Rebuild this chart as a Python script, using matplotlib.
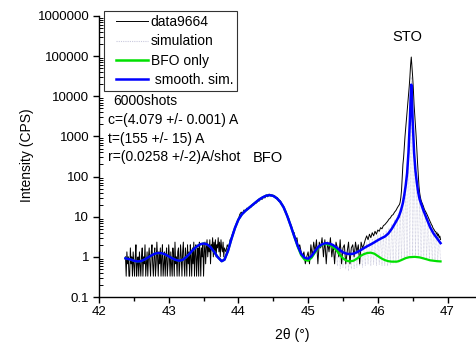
import numpy as np
import matplotlib
matplotlib.use("Agg")
import matplotlib.pyplot as plt
from matplotlib.lines import Line2D
from matplotlib.legend_handler import HandlerLine2D
from matplotlib.ticker import FixedLocator, FixedFormatter, LogLocator, NullFormatter

plt.rcParams["font.family"] = ["Liberation Sans", "DejaVu Sans"]

# --- measured scan (data9664), read off the picture in three segments ---
# 42.38 - 43.80, 0.01 deg steps : background
bg_start, bg_step = 42.38, 0.01
bg_y = [
    1.0, 0.33, 1.33, 0.67, 1.0, 0.33, 0.33, 1.67, 0.67, 1.0,
    0.33, 1.33, 0.67, 0.33, 1.0, 2.0, 0.33, 0.67, 1.0, 0.33,
    1.33, 0.67, 0.33, 1.0, 1.67, 0.33, 1.0, 0.67, 2.0, 0.33,
    0.67, 1.33, 0.33, 1.0, 1.67, 0.67, 0.33, 1.33, 2.0, 0.67,
    0.33, 1.0, 1.67, 0.33, 0.67, 2.33, 1.0, 0.33, 1.33, 0.67,
    1.67, 0.33, 1.0, 2.0, 0.33, 0.67, 1.33, 0.33, 1.0, 1.67,
    0.33, 0.67, 2.0, 1.0, 0.33, 1.33, 0.67, 0.33, 1.67, 1.0,
    0.33, 2.33, 0.67, 1.0, 0.33, 1.33, 1.67, 0.33, 0.67, 2.0,
    1.0, 0.33, 1.33, 2.33, 0.67, 0.33, 1.67, 1.0, 0.33, 2.0,
    0.67, 1.33, 0.33, 2.0, 1.0, 0.33, 1.67, 0.67, 2.33, 0.33,
    1.33, 2.0, 0.33, 1.0, 1.67, 0.33, 2.33, 1.33, 0.33, 1.67,
    1.0, 2.0, 0.33, 1.33, 2.33, 0.67, 1.67, 2.67, 1.0, 2.0,
    1.33, 2.67, 0.67, 2.0, 1.67, 3.0, 1.0, 2.33, 1.33, 2.67,
    1.0, 2.0, 1.67, 3.0, 1.33, 2.33, 1.0, 2.67, 1.67, 1.33,
    2.33, 1.0, 1.67,
]
# 43.82 - 46.30, 0.02 deg steps : BFO peak and STO tail
mid_start, mid_step = 43.82, 0.02
mid_y = [
    1.33, 2.0, 1.67, 2.67, 3.0, 4.0, 4.67, 6.0, 7.33, 8.67,
    11.5, 13.0, 12.3, 14.7, 14.0, 16.3, 15.7, 18.0, 17.3, 20.3,
    19.7, 22.7, 22.0, 25.3, 24.7, 28.3, 27.0, 31.0, 29.3, 34.7,
    31.3, 36.7, 33.0, 35.3, 31.7, 33.3, 28.3, 29.7, 24.0, 25.0,
    20.0, 19.3, 15.0, 13.7, 10.3, 9.3, 6.7, 6.0, 4.3, 4.0,
    2.7, 3.0, 1.67, 2.0, 1.33,
    1.0, 1.33, 0.67, 1.0, 1.33, 0.67, 2.0, 1.0, 2.33, 1.33,
    2.67, 0.67, 2.33, 1.67, 3.0, 1.0, 2.67, 0.67, 2.33, 1.33,
    3.0, 1.0, 2.0, 0.67, 2.33, 1.67, 1.0, 2.67, 0.67, 1.67,
    2.0, 0.67, 1.33, 2.33, 0.67, 1.67, 2.0, 1.0, 2.33, 1.33,
    2.0, 0.67, 2.33, 1.67, 2.0,
    2.67, 3.33, 2.67, 3.67, 3.0, 4.0, 3.33, 4.33, 3.67, 4.67,
    4.33, 5.33, 5.0, 6.0, 6.33, 7.0, 7.67, 8.67, 9.33, 10.7,
    11.3, 13.0, 14.3, 16.7, 19.0,
]
# 46.31 - 46.90, 0.01 deg steps : STO peak
peak_start, peak_step = 46.31, 0.01
peak_y = [
    20, 23, 30, 45, 90, 200, 300, 550, 1000, 1600,
    2500, 4000, 6300, 10000, 17000, 30000, 60000, 95000, 55000, 30000,
    15000, 6300, 3500, 1800, 1000, 450, 220, 110, 60, 40,
    31, 26, 23, 21, 19, 17, 15, 14, 13, 12,
    11, 10, 9, 8.3, 7.6, 7, 6.3, 6, 5.3, 5,
    4.7, 4.3, 4.3, 3.7, 4, 3.3, 3.7, 3, 3.3, 2.7,
]

# --- simulation (fast fringes), 0.02 deg steps from 45.40 ---
sim_start, sim_step = 45.40, 0.02
sim_y = [
    2.2, 0.6, 1.9, 0.5, 1.7, 0.55, 1.6, 0.5, 1.5, 0.45,
    1.5, 0.5, 1.55, 0.5, 1.7, 0.55, 1.8, 0.6, 1.9, 0.55,
    2.1, 0.6, 2.3, 0.65, 2.6, 0.6, 2.8, 0.65, 3.0, 0.6,
    3.4, 0.65, 3.7, 0.6, 4.0, 0.6, 4.5, 0.6, 5.2, 0.65,
    6.5, 0.7, 8.5, 0.7, 11, 0.75, 16, 0.8, 30, 0.9,
    80, 1.0, 600, 1.0, 30000, 1.0, 500, 1.0, 90, 1.0,
    35, 0.95, 22, 0.9, 14, 0.9, 9, 0.85, 6.5, 0.8,
    5, 0.8, 4, 0.8, 3.3, 0.8,
]

# --- smooth simulation ---
smooth_x = [
    42.38, 42.45, 42.50, 42.55, 42.60, 42.65, 42.70, 42.75, 42.80, 42.85,
    42.90, 42.95, 43.00, 43.05, 43.10, 43.15, 43.20, 43.25, 43.30, 43.35,
    43.40, 43.45, 43.50, 43.55, 43.60, 43.65, 43.70, 43.76, 43.80, 43.85,
    43.90, 43.95, 44.00, 44.05, 44.10, 44.15, 44.20, 44.25, 44.30, 44.35,
    44.40, 44.45, 44.50, 44.55, 44.60, 44.65, 44.70, 44.75, 44.80, 44.85,
    44.90, 44.95, 45.00, 45.05, 45.10, 45.15, 45.20, 45.25, 45.30, 45.35,
    45.40, 45.45, 45.50, 45.55, 45.60, 45.65, 45.70, 45.75, 45.80, 45.85,
    45.90, 45.95, 46.00, 46.05, 46.10, 46.15, 46.20, 46.25, 46.30, 46.33,
    46.36, 46.38, 46.40, 46.42, 46.44, 46.46, 46.47, 46.48, 46.49, 46.50,
    46.52, 46.54, 46.56, 46.58, 46.60, 46.65, 46.70, 46.75, 46.80, 46.85,
    46.90,
]
smooth_y = [
    0.92, 0.86, 0.8, 0.77, 0.78, 0.85, 0.96, 1.08, 1.2, 1.25,
    1.23, 1.15, 1.03, 0.92, 0.84, 0.8, 0.84, 0.98, 1.2, 1.5,
    1.8, 2.05, 2.15, 2.05, 1.75, 1.35, 1.0, 0.78, 0.85, 1.4,
    2.8, 5.2, 8.5, 11.5, 14.0, 16.5, 19.5, 23, 27, 30.5,
    33.5, 34.5, 33, 29, 23.5, 17, 10.5, 6.0, 3.3, 1.9,
    1.2, 0.95, 0.9, 1.05, 1.4, 1.8, 2.05, 2.2, 2.15, 2.0,
    1.75, 1.5, 1.3, 1.2, 1.17, 1.2, 1.3, 1.45, 1.65, 1.85,
    2.05, 2.3, 2.6, 2.9, 3.2, 3.8, 5.0, 7.0, 10, 14,
    22, 35, 60, 120, 400, 2500, 8000, 19500, 8000, 2500,
    400, 140, 70, 40, 27, 15, 9, 5.5, 3.8, 2.9,
    2.2,
]

# --- BFO only: follows the smooth curve up to 44.80, then its own fringes ---
bfo_tail_x = [
    44.85, 44.90, 44.95, 45.00, 45.05, 45.10, 45.15, 45.20, 45.25, 45.30,
    45.35, 45.40, 45.45, 45.50, 45.55, 45.60, 45.65, 45.70, 45.75, 45.80,
    45.85, 45.90, 45.95, 46.00, 46.05, 46.10, 46.15, 46.20, 46.27, 46.30,
    46.35, 46.40, 46.45, 46.53, 46.60, 46.65, 46.70, 46.75, 46.80, 46.85,
    46.90,
]
bfo_tail_y = [
    1.8, 1.1, 0.85, 0.8, 0.95, 1.3, 1.7, 2.0, 2.1, 2.0,
    1.8, 1.5, 1.15, 0.92, 0.8, 0.77, 0.8, 0.9, 1.05, 1.17,
    1.25, 1.27, 1.2, 1.05, 0.92, 0.83, 0.78, 0.76, 0.76, 0.78,
    0.85, 0.93, 0.98, 1.0, 0.97, 0.92, 0.87, 0.82, 0.8, 0.78,
    0.77,
]
n_shared = smooth_x.index(44.80) + 1
bfo_x = smooth_x[:n_shared] + bfo_tail_x
bfo_y = smooth_y[:n_shared] + bfo_tail_y

data_x = np.concatenate([
    bg_start + bg_step * np.arange(len(bg_y)),
    mid_start + mid_step * np.arange(len(mid_y)),
    peak_start + peak_step * np.arange(len(peak_y)),
])
data_y = np.concatenate([bg_y, mid_y, peak_y])
sim_x = sim_start + sim_step * np.arange(len(sim_y))

y_ticks = [0.1, 1, 10, 100, 1000, 10000, 100000, 1000000]
y_tick_labels = ["0.1", "1", "10", "100", "1000", "10000", "100000", "1000000"]
x_ticks = [42, 43, 44, 45, 46, 47]


class ShiftedLine(HandlerLine2D):
    # legend line drawn a little away from the frame, as in the original
    def __init__(self, shift, **kw):
        super().__init__(**kw)
        self.shift = shift

    def create_artists(self, legend, orig_handle, xdescent, ydescent,
                       width, height, fontsize, trans):
        return super().create_artists(legend, orig_handle, xdescent - self.shift,
                                      ydescent, width - self.shift, height,
                                      fontsize, trans)


fig = plt.figure(figsize=(4.76, 3.47), dpi=100)
ax = fig.add_axes([99 / 476, 1 - 297 / 347, 376.4 / 476, 281 / 347])

ax.plot(sim_x, sim_y, color="#c9c9dd", lw=0.5, ls=(0, (1, 1)), zorder=1)
ax.plot(data_x, data_y, color="black", lw=0.7, zorder=2)
ax.plot(bfo_x, bfo_y, color="#00e000", lw=1.6, zorder=3)
ax.plot(smooth_x, smooth_y, color="#0000ff", lw=1.8, zorder=4)

ax.set_yscale("log")
ax.set_xlim(42, 47.4)
ax.set_ylim(0.1, 1000000)
ax.yaxis.set_major_locator(FixedLocator(y_ticks))
ax.yaxis.set_major_formatter(FixedFormatter(y_tick_labels))
ax.yaxis.set_minor_locator(LogLocator(base=10, subs=np.arange(2, 10)))
ax.yaxis.set_minor_formatter(NullFormatter())
ax.set_xticks(x_ticks)
ax.set_xticklabels([str(t) for t in x_ticks])
ax.xaxis.set_minor_locator(FixedLocator([42.5, 43.5, 44.5, 45.5, 46.5]))

for side in ("top", "right"):
    ax.spines[side].set_visible(False)
for side in ("left", "bottom"):
    ax.spines[side].set_linewidth(1.0)

ax.tick_params(axis="both", which="major", labelsize=9.5, length=4, width=1.0, direction="out")
ax.tick_params(axis="y", which="major", pad=3)
ax.tick_params(axis="x", which="major", pad=2.5)
ax.tick_params(axis="y", which="minor", length=3, width=0.7, direction="in")
ax.tick_params(axis="x", which="minor", length=3, width=1.0, direction="out")

ax.text(44.42, 290, "BFO", fontsize=10.5, ha="center", va="center")
ax.text(46.42, 300000, "STO", fontsize=10.5, ha="center", va="center")

fig.text(27 / 476, 1 - 155 / 347, "Intensity (CPS)", rotation=90, fontsize=10,
         ha="center", va="center")
fig.text(292 / 476, 1 - 335 / 347, "2θ (°)", fontsize=10, ha="center", va="center")

notes = [
    (113, 101, "6000shots"),
    (108, 120, "c=(4.079 +/- 0.001) A"),
    (108, 139, "t=(155 +/- 15) A"),
    (108, 157, "r=(0.0258 +/-2)A/shot"),
]
for px, py, txt in notes:
    fig.text(px / 476, 1 - py / 347, txt, fontsize=10, ha="left", va="center")

handles = [
    Line2D([], [], color="black", lw=0.7),
    Line2D([], [], color="#c9c9dd", lw=0.8, ls=(0, (1, 1))),
    Line2D([], [], color="#00e000", lw=1.8),
    Line2D([], [], color="#0000ff", lw=1.8),
]
labels = ["data9664", "simulation", "BFO only", " smooth. sim."]
shift_handler = ShiftedLine(5.5)
leg = ax.legend(handles, labels, loc="upper left",
                bbox_to_anchor=(104 / 476, 1 - 11 / 347), bbox_transform=fig.transFigure,
                borderaxespad=0, fontsize=10, frameon=True, fancybox=False,
                handlelength=2.9, handletextpad=0.15, labelspacing=0.38,
                borderpad=0.3, handler_map={Line2D: shift_handler})
leg.get_frame().set_edgecolor("black")
leg.get_frame().set_linewidth(0.8)

fig.savefig("out.png", dpi=100)
